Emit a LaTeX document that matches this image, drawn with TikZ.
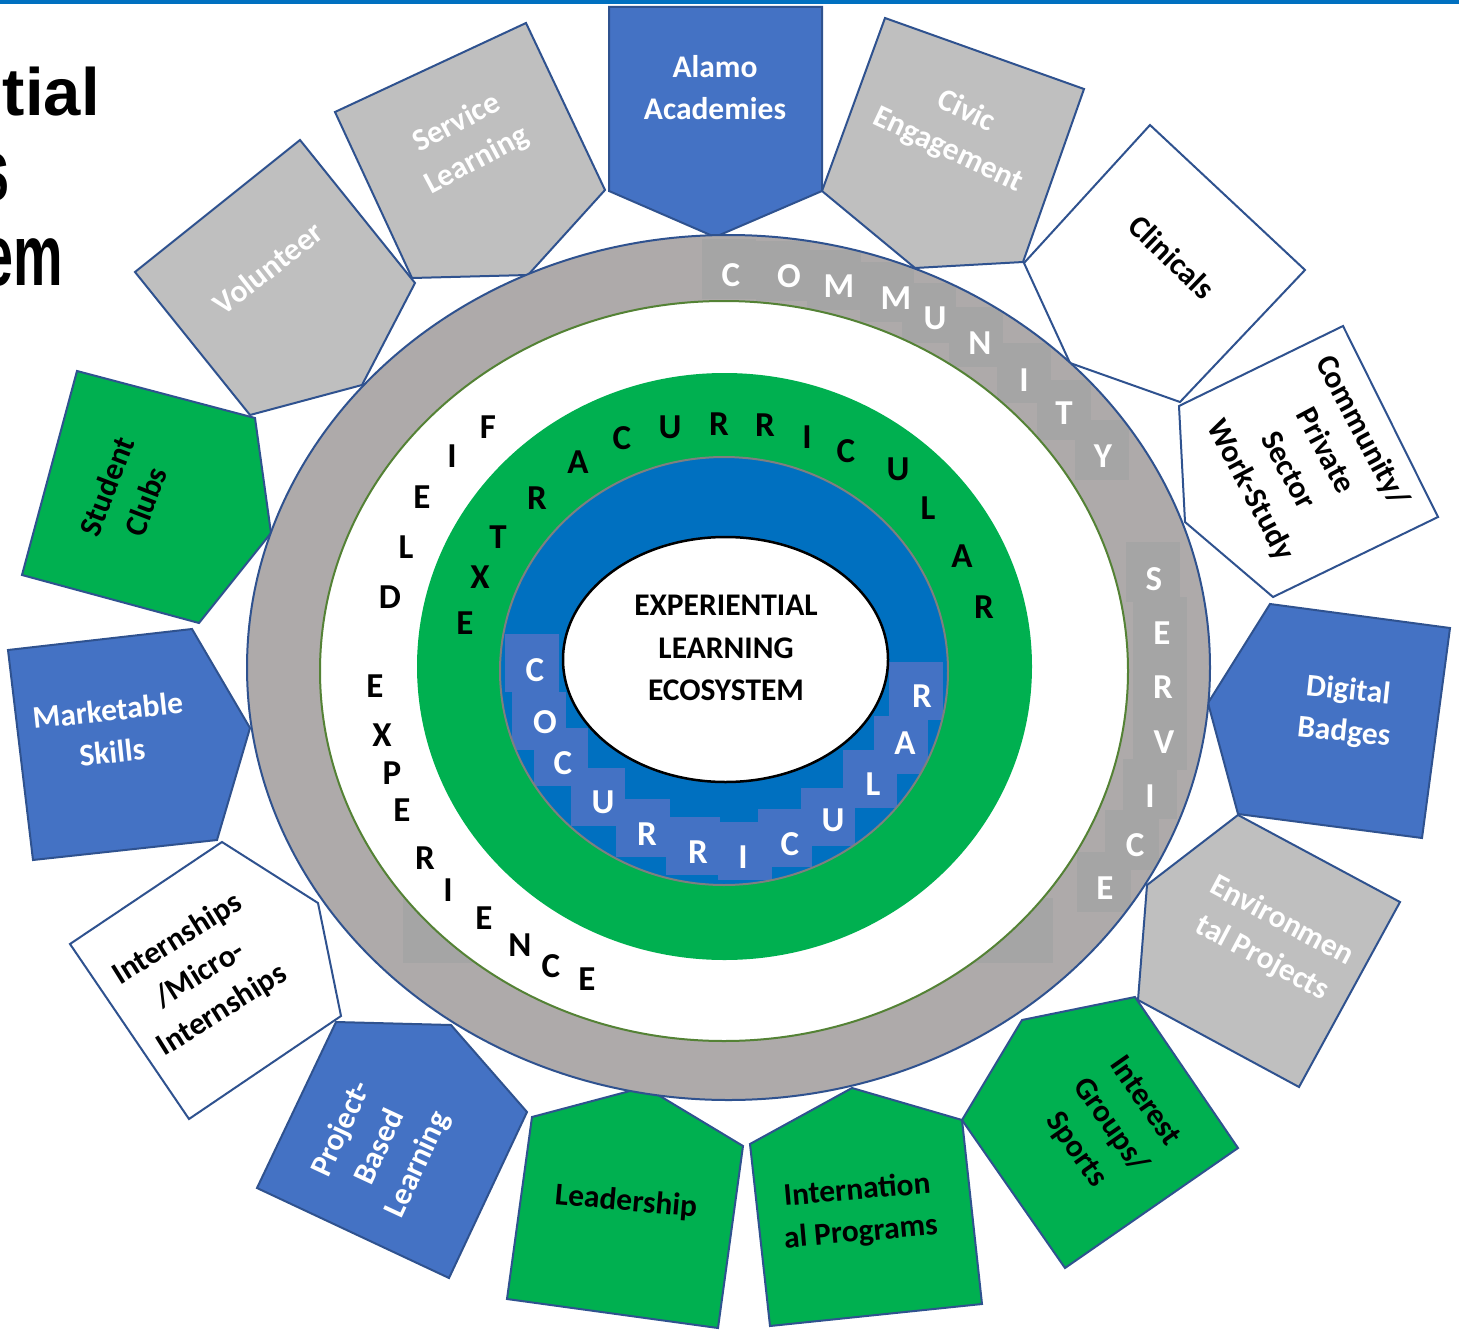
\documentclass[tikz,border=0pt]{standalone}
\usepackage{fontspec}
\setmainfont{Carlito}
\newfontfamily\titlefont{Liberation Sans}
\definecolor{pborder}{HTML}{2F528F}
\definecolor{pgray}{HTML}{BFBFBF}
\definecolor{pblue}{HTML}{4472C4}
\definecolor{pgreen}{HTML}{00B050}
\definecolor{ringgray}{HTML}{AEAAAA}
\definecolor{boxgray}{HTML}{A5A5A5}
\definecolor{ringblue}{HTML}{0070C0}
\definecolor{ringline}{HTML}{548235}
\definecolor{midgray}{HTML}{7F7F7F}
\begin{document}
\begin{tikzpicture}[x=1pt,y=-1pt,
  pent/.style={draw=pborder, line width=2pt, line join=miter},
  gpent/.style={pent, fill=pgray},
  bpent/.style={pent, fill=pblue},
  grpent/.style={pent, fill=pgreen},
  wpent/.style={pent, fill=white},
  lbl/.style={font=\fontsize{31.5}{42}\selectfont\bfseries, align=center, inner sep=0pt},
  rl/.style={font=\fontsize{35}{35}\selectfont\bfseries, inner sep=0pt},
  ttl/.style={font=\titlefont\bfseries\fontsize{67}{67}\selectfont, inner sep=0pt, anchor=base east},
  ttlb/.style={font=\titlefont\bfseries\fontsize{87}{87}\selectfont, inner sep=0pt, anchor=base east},
]
\useasboundingbox (0,0) rectangle (1459,1330);
\fill[white] (0,0) rectangle (1459,1330);
\fill[ringblue] (0,0) rectangle (1459,4);

% title fragments
\begin{scope}
\clip (0,0) rectangle (1459,1330);
\node[ttl] (t1) at (100,115) {tial};
\node[ttlb] (t2) at (10,200) {\scalebox{0.6}[1]{s}};
\node[ttlb] (t3) at (63,285) {\scalebox{0.64}[1]{em}};
\end{scope}

% pentagons
\path[bpent] (609,7) -- (822,7) -- (822,191) -- (715,237) -- (609,191) -- cycle;
\path[gpent] (885,18) -- (1084,89) -- (1023,262) -- (915,268) -- (822,191) -- cycle;
\path[wpent] (1150,125) -- (1305,270) -- (1180,402) -- (1070,363) -- (1024,263) -- cycle;
\path[wpent] (1343,326) -- (1438,517) -- (1273,597) -- (1185,522) -- (1179,406) -- cycle;
\path[bpent] (1270,604) -- (1450,628) -- (1422,838) -- (1238,814) -- (1208,703) -- cycle;
\path[gpent] (1238,815) -- (1400,902) -- (1299,1087) -- (1138,1000) -- (1147,885) -- cycle;
\path[grpent] (1135,997) -- (1238,1148) -- (1065,1268) -- (962,1120) -- (1022,1020) -- cycle;
\path[grpent] (750,1144) -- (852,1088) -- (962,1120) -- (982,1304) -- (770,1326) -- cycle;
\path[grpent] (532,1117) -- (645,1087) -- (743,1146) -- (718,1328) -- (507,1299) -- cycle;
\path[bpent] (336,1022) -- (451,1025) -- (527,1112) -- (449,1278) -- (257,1188) -- cycle;
\path[wpent] (222,842) -- (318,903) -- (341,1016) -- (189,1119) -- (70,944) -- cycle;
\path[bpent] (8,650) -- (192,629) -- (250,728) -- (217,840) -- (33,860) -- cycle;
\path[grpent] (77,371) -- (255,418) -- (271,533) -- (199,623) -- (22,575) -- cycle;
\path[gpent] (300,140) -- (415,283) -- (362,385) -- (250,415) -- (135,272) -- cycle;
\path[gpent] (335,112) -- (526,23) -- (605,190) -- (528,275) -- (412,278) -- cycle;

% pentagon labels
\node[lbl, text=white] (alamo) at (715,88) {Alamo\\Academies};
\node[lbl, text=white, rotate=-25] (civic) at (957,131) {Civic\\Engagement};
\node[lbl, rotate=-44] (clin) at (1172,257) {Clinicals};
\node[lbl, rotate=-62] (cpws) at (1306,461) {Community/\\Private\\Sector\\Work-Study};
\node[lbl, text=white, rotate=-6] (digi) at (1346,712) {Digital\\Badges};
\node[lbl, text=white, rotate=-28] (env) at (1272,940) {Environmen\\tal Projects};
\node[lbl, rotate=-55] (intg) at (1110,1126) {Interest\\Groups/\\Sports};
\node[lbl, rotate=5] (intl) at (859,1212) {Internation\\al Programs};
\node[lbl, rotate=-5] (lead) at (626,1202) {Leadership};
\node[lbl, text=white, rotate=65] (pbl) at (380,1147) {Project-\\Based\\Learning};
\node[lbl, rotate=32] (intern) at (200,975) {Internships\\/Micro-\\Internships};
\node[lbl, text=white, rotate=6] (mkt) at (110,731) {Marketable\\Skills};
\node[lbl, rotate=69] (club) at (126,494) {Student\\Clubs};
\node[lbl, text=white, rotate=38] (vol) at (268,268) {Volunteer};
\node[lbl, text=white, rotate=28] (serv) at (467,142) {Service\\Learning};

% outer gray ring
\fill[ringgray] (728.5,667.5) ellipse [x radius=481.5, y radius=432.5];
\begin{scope}
\clip (728.5,667.5) ellipse [x radius=481.5, y radius=432.5];
\foreach \x/\y in {729/269, 783/271, 834/280, 887/292, 929/313, 976/337, 1024/373, 1064/410, 1102/450,
                   1153/572, 1160/627, 1160/681, 1160/740, 1150/789, 1132/840, 1104/882}
  \fill[boxgray] (\x-27,\y-30) rectangle (\x+27,\y+30);
\fill[boxgray] (403,898) rectangle (1053,963);
\end{scope}
\draw[pborder, line width=2pt] (728.5,667.5) ellipse [x radius=481.5, y radius=432.5];
\path[fill=white, draw=ringline, line width=2pt] (724,671) ellipse [x radius=404, y radius=370];

% green ring
\fill[pgreen] (724.5,666.5) ellipse [x radius=307.5, y radius=293.5];

% blue ring
\fill[ringblue] (724,671) ellipse [x radius=224, y radius=214];
\begin{scope}
\clip (724,671) ellipse [x radius=224, y radius=214];
\foreach \x/\y in {532/663, 539/721, 561/757, 598/797, 643/828, 693/846, 745/851, 785/838, 828/817, 870/779, 901/745, 916/691}
  \fill[pblue] (\x-27,\y-29) rectangle (\x+27,\y+29);
\end{scope}
\draw[midgray, line width=2pt] (724,671) ellipse [x radius=224, y radius=214];

% centre
\path[fill=white, draw=black, line width=2.5pt] (725.5,659.5) ellipse [x radius=162.5, y radius=122.5];
\node[lbl, font=\fontsize{31.5}{42.5}\selectfont\bfseries] (centre) at (726,648) {EXPERIENTIAL\\LEARNING\\ECOSYSTEM};

% ring letters
\foreach \x/\y/\l [count=\i] in {731/275/C, 789/276/O, 839/286/M, 896/298/M, 935/318/U, 980/343/N, 1024/380/I, 1064/413/T, 1103/456/Y}
  \node[rl, text=white] (com\i) at (\x,\y) {\l};
\foreach \x/\y/\l [count=\i] in {1154/579/S, 1162/633/E, 1163/687/R, 1164/742/V, 1150/796/I, 1135/845/C, 1105/888/E}
  \node[rl, text=white] (ser\i) at (\x,\y) {\l};
\foreach \x/\y/\l [count=\i] in {535/670/C, 545/722/O, 563/763/C, 603/802/U, 647/834/R, 698/852/R, 743/857/I, 790/844/C, 833/820/U, 873/784/L, 905/743/A, 922/696/R}
  \node[rl, text=white] (coc\i) at (\x,\y) {\l};
\foreach \x/\y/\l [count=\i] in {465/623/E, 480/577/X, 498/537/T, 537/498/R, 578/462/A, 622/438/C, 670/427/U, 719/424/R, 765/425/R, 807/437/I, 846/451/C, 898/469/U, 928/508/L, 962/556/A, 984/607/R}
  \node[rl] (ext\i) at (\x,\y) {\l};
\foreach \x/\y/\l [count=\i] in {488/427/F, 452/456/I, 422/497/E, 406/547/L, 390/597/D}
  \node[rl] (fld\i) at (\x,\y) {\l};
\foreach \x/\y/\l [count=\i] in {375/686/E, 382/735/X, 392/773/P, 402/810/E, 425/858/R, 448/890/I, 484/918/E, 520/945/N, 551/966/C, 587/979/E}
  \node[rl] (exp\i) at (\x,\y) {\l};
\end{tikzpicture}
\end{document}
